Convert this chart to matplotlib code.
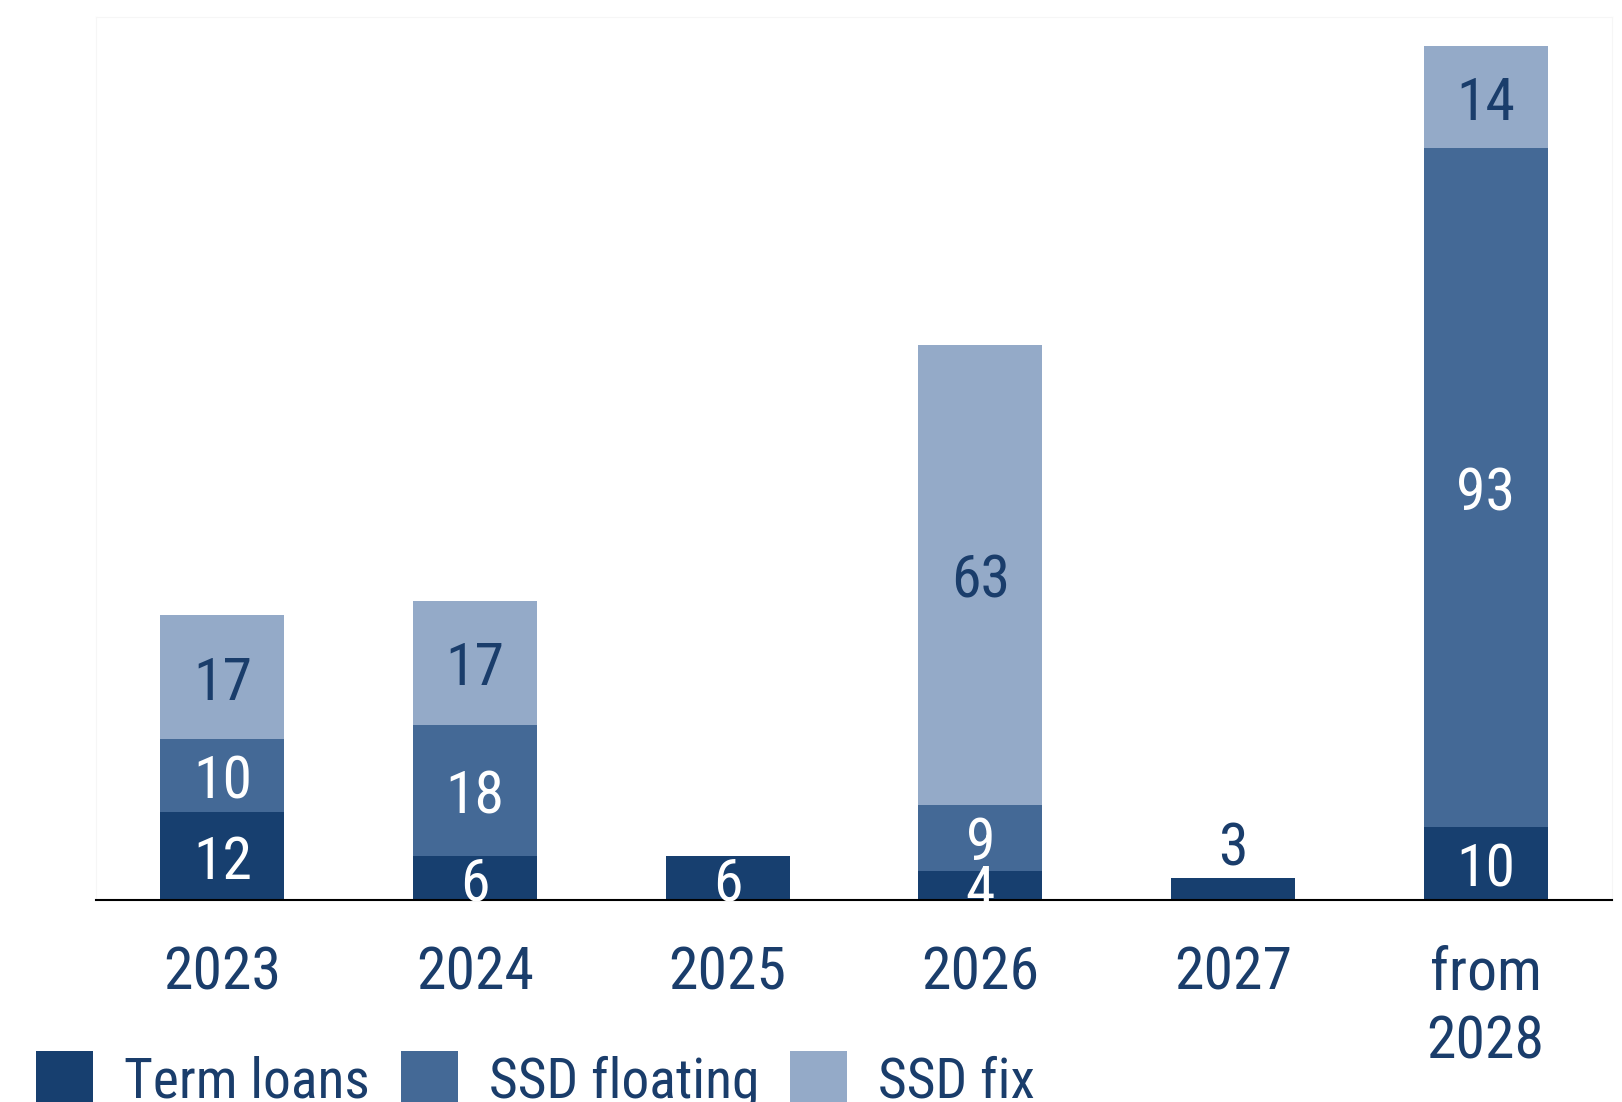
import numpy as np
import matplotlib.pyplot as plt

plt.rcParams['font.family'] = ['Roboto Condensed', 'DejaVu Sans']

# Maturity profile by year (EUR m)
years = ['2023', '2024', '2025', '2026', '2027', 'from\n2028']
term_loans = [12, 6, 6, 4, 3, 10]
ssd_floating = [10, 18, 0, 9, 0, 93]
ssd_fix = [17, 17, 0, 63, 0, 14]

navy = '#173F6F'
mid_blue = '#446996'
light_blue = '#94AAC8'
text_col = '#1A3D6B'
fs = 43
fs_leg = 40

fig = plt.figure(figsize=(16.22, 11.02), dpi=100)
ax = fig.add_axes([96 / 1622, 202 / 1102, 1516 / 1622, 883 / 1102])

x = np.arange(len(years))
w = 0.49
term = np.array(term_loans)
flt = np.array(ssd_floating)
fix = np.array(ssd_fix)

ax.bar(x, term, w, color=navy, label='Term loans')
ax.bar(x, flt, w, bottom=term, color=mid_blue, label='SSD floating')
ax.bar(x, fix, w, bottom=term + flt, color=light_blue, label='SSD fix')

# value labels in the middle of each segment
for i in range(len(years)):
    if i == 4:
        ax.annotate(str(term[i]), (x[i], term[i]), xytext=(0, 25),
                    textcoords='offset points', ha='center', va='center_baseline',
                    fontsize=fs, color=text_col)
    else:
        ax.text(x[i], term[i] / 2, str(term[i]), ha='center', va='center_baseline',
                fontsize=fs, color='white')
    if flt[i] > 0:
        ax.text(x[i], term[i] + flt[i] / 2, str(flt[i]), ha='center',
                va='center_baseline', fontsize=fs, color='white')
    if fix[i] > 0:
        ax.text(x[i], term[i] + flt[i] + fix[i] / 2, str(fix[i]), ha='center',
                va='center_baseline', fontsize=fs, color=text_col)

ax.set_xlim(-0.5, 5.5)
ax.set_ylim(0, 121)
ax.set_xticks(x)
ax.set_xticklabels(years, fontsize=fs, color=text_col, linespacing=1.27)
ax.tick_params(axis='x', length=0, pad=32)
ax.set_yticks([])

for side in ['top', 'left', 'right']:
    ax.spines[side].set_color('#f6f6f6')
ax.spines['bottom'].set_color('black')
ax.spines['bottom'].set_linewidth(1.5)

fig.legend(loc='center left', bbox_to_anchor=(36 / 1622, 1 - 1080 / 1102),
           ncol=3, frameon=False, fontsize=fs_leg, labelcolor=text_col,
           handlelength=1.03, handleheight=1.2, handletextpad=0.56,
           columnspacing=0.55, borderpad=0, borderaxespad=0)

fig.savefig('out.png', dpi=100)
